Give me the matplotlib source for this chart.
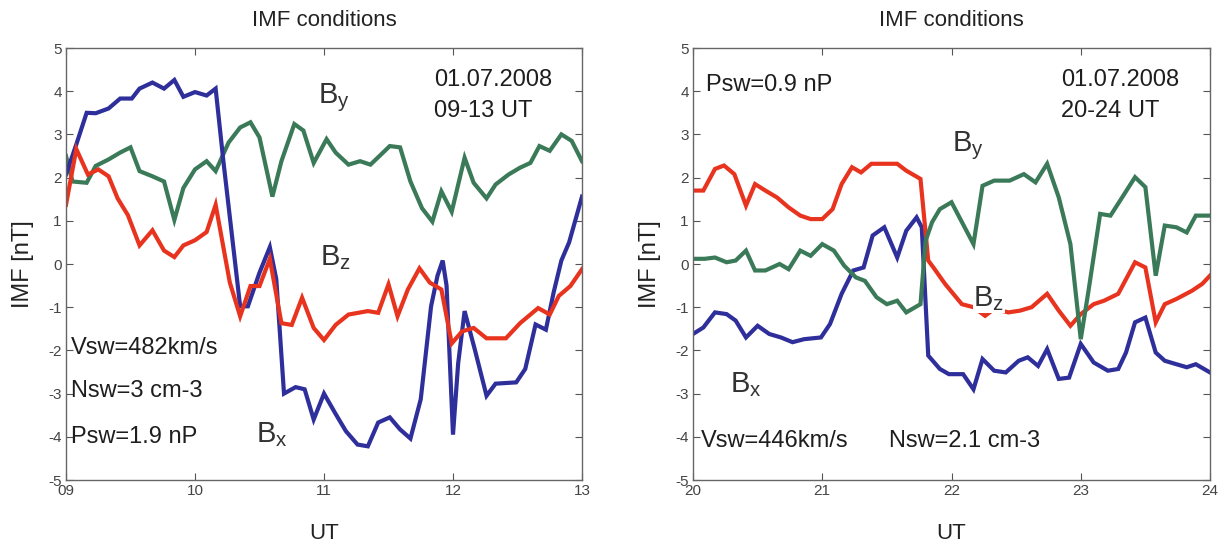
import matplotlib
matplotlib.use("Agg")
import matplotlib.pyplot as plt

# ---------------- data: left panel (09-13 UT) ----------------
t_bx1 = [9.0, 9.08, 9.16, 9.23, 9.33, 9.42, 9.51, 9.57, 9.67, 9.76, 9.84, 9.91, 10.0, 10.09, 10.16,
         10.22, 10.35, 10.41, 10.5, 10.58, 10.63, 10.69, 10.78, 10.85, 10.92, 11.0, 11.09, 11.17,
         11.26, 11.34, 11.42, 11.51, 11.59, 11.67, 11.75, 11.83, 11.88, 11.92, 11.95, 12.0, 12.04,
         12.09, 12.17, 12.26, 12.33, 12.49, 12.56, 12.64, 12.72, 12.78, 12.84, 12.9, 13.0]
v_bx1 = [2.07, 2.77, 3.5, 3.49, 3.6, 3.83, 3.83, 4.06, 4.2, 4.06, 4.26, 3.87, 3.98, 3.9, 4.06,
         2.38, -0.98, -0.98, -0.2, 0.39, -0.35, -3.0, -2.85, -2.9, -3.6, -3.0, -3.47, -3.87,
         -4.18, -4.22, -3.67, -3.55, -3.83, -4.04, -3.13, -0.98, -0.27, 0.08, -0.5, -3.95, -2.3,
         -1.09, -1.99, -3.05, -2.77, -2.74, -2.43, -1.4, -1.52, -0.66, 0.08, 0.5, 1.56]

t_by1 = [9.0, 9.05, 9.16, 9.23, 9.33, 9.42, 9.5, 9.57, 9.67, 9.76, 9.84, 9.91, 10.0, 10.09, 10.16,
         10.26, 10.35, 10.43, 10.5, 10.6, 10.67, 10.77, 10.84, 10.92, 11.02, 11.09, 11.19, 11.28,
         11.36, 11.43, 11.51, 11.59, 11.67, 11.76, 11.84, 11.91, 11.99, 12.09, 12.16, 12.26, 12.33,
         12.43, 12.52, 12.6, 12.67, 12.75, 12.84, 12.92, 13.0]
v_by1 = [2.5, 1.91, 1.88, 2.27, 2.42, 2.58, 2.7, 2.15, 2.03, 1.91, 1.02, 1.76, 2.19, 2.38, 2.15,
         2.81, 3.16, 3.28, 2.93, 1.56, 2.38, 3.24, 3.09, 2.34, 2.89, 2.58, 2.3, 2.38,
         2.3, 2.5, 2.73, 2.7, 1.91, 1.29, 0.98, 1.68, 1.21, 2.46, 1.88, 1.52, 1.84,
         2.07, 2.23, 2.34, 2.73, 2.62, 3.0, 2.85, 2.38]

t_bz1 = [9.0, 9.08, 9.17, 9.25, 9.33, 9.4, 9.48, 9.57, 9.67, 9.76, 9.84, 9.91, 10.0, 10.09, 10.16,
         10.27, 10.35, 10.43, 10.5, 10.58, 10.67, 10.75, 10.83, 10.92, 11.0, 11.09, 11.19, 11.34,
         11.42, 11.5, 11.57, 11.65, 11.74, 11.82, 11.91, 11.99, 12.07, 12.16, 12.26, 12.41, 12.52,
         12.66, 12.75, 12.82, 12.91, 13.0]
v_bz1 = [1.37, 2.66, 2.07, 2.19, 2.03, 1.52, 1.13, 0.43, 0.78, 0.31, 0.16, 0.43, 0.55, 0.74, 1.37,
         -0.43, -1.21, -0.51, -0.51, 0.12, -1.37, -1.41, -0.78, -1.48, -1.76, -1.41, -1.17, -1.09,
         -1.13, -0.47, -1.21, -0.59, -0.1, -0.43, -0.59, -1.84, -1.56, -1.48, -1.72, -1.72, -1.37,
         -1.02, -1.17, -0.74, -0.51, -0.12]

# ---------------- data: right panel (20-24 UT) ----------------
t_bx2 = [20.0, 20.08, 20.17, 20.26, 20.33, 20.41, 20.5, 20.59, 20.68, 20.77, 20.86, 20.99, 21.06,
         21.15, 21.24, 21.32, 21.39, 21.48, 21.58, 21.65, 21.73, 21.77, 21.82, 21.91, 21.98, 22.09,
         22.17, 22.24, 22.33, 22.42, 22.52, 22.59, 22.67, 22.74, 22.83, 22.91, 23.0, 23.1, 23.21,
         23.29, 23.35, 23.42, 23.5, 23.58, 23.65, 23.74, 23.82, 23.89, 24.0]
v_bx2 = [-1.62, -1.47, -1.12, -1.16, -1.31, -1.7, -1.43, -1.62, -1.7, -1.81, -1.74, -1.7, -1.39,
         -0.69, -0.15, -0.08, 0.66, 0.85, 0.15, 0.77, 1.08, 0.85, -2.12, -2.43, -2.55, -2.55,
         -2.9, -2.2, -2.47, -2.51, -2.24, -2.16, -2.36, -1.97, -2.66, -2.63, -1.85, -2.28, -2.47,
         -2.43, -2.05, -1.35, -1.24, -2.05, -2.24, -2.32, -2.39, -2.32, -2.51]

t_by2 = [20.0, 20.09, 20.17, 20.26, 20.33, 20.41, 20.48, 20.56, 20.67, 20.74, 20.83, 20.91, 21.0,
         21.09, 21.17, 21.26, 21.33, 21.42, 21.5, 21.58, 21.65, 21.76, 21.8, 21.85, 21.91, 22.0,
         22.17, 22.24, 22.33, 22.45, 22.56, 22.65, 22.74, 22.83, 22.92, 23.0, 23.06, 23.15, 23.23,
         23.32, 23.42, 23.5, 23.58, 23.65, 23.74, 23.82, 23.89, 24.0]
v_by2 = [0.12, 0.12, 0.15, 0.04, 0.08, 0.31, -0.15, -0.15, 0.0, -0.12, 0.31, 0.19, 0.46,
         0.31, -0.04, -0.31, -0.39, -0.77, -0.93, -0.85, -1.12, -0.93, 0.54, 0.97, 1.27, 1.43,
         0.46, 1.81, 1.93, 1.93, 2.08, 1.89, 2.32, 1.54, 0.46, -1.74, -0.62, 1.16, 1.12,
         1.54, 2.01, 1.78, -0.27, 0.89, 0.85, 0.73, 1.12, 1.12]

t_bz2 = [20.0, 20.08, 20.17, 20.24, 20.32, 20.41, 20.48, 20.56, 20.65, 20.74, 20.83, 20.91, 21.0,
         21.08, 21.15, 21.23, 21.3, 21.38, 21.47, 21.58, 21.65, 21.76, 21.82, 21.86, 21.95, 22.08,
         22.17, 22.26, 22.33, 22.44, 22.53, 22.62, 22.74, 22.83, 22.92, 23.0, 23.1, 23.18, 23.29,
         23.42, 23.5, 23.58, 23.65, 23.74, 23.86, 23.94, 24.0]
v_bz2 = [1.7, 1.7, 2.2, 2.28, 2.08, 1.35, 1.85, 1.7, 1.54, 1.31, 1.12, 1.04, 1.04,
         1.27, 1.85, 2.24, 2.12, 2.32, 2.32, 2.32, 2.16, 1.97, 0.08, -0.08, -0.46, -0.93,
         -1.0, -1.2, -1.04, -1.12, -1.08, -1.0, -0.69, -1.08, -1.43, -1.16, -0.93, -0.85, -0.69,
         0.04, -0.08, -1.35, -0.93, -0.81, -0.62, -0.46, -0.27]

xticks1 = [9, 10, 11, 12, 13]
xlabels1 = ["09", "10", "11", "12", "13"]
xticks2 = [20, 21, 22, 23, 24]
xlabels2 = ["20", "21", "22", "23", "24"]
yticks = [-5, -4, -3, -2, -1, 0, 1, 2, 3, 4, 5]

C_BX = "#2f2f9c"
C_BY = "#3b7a58"
C_BZ = "#e8341f"
TXT = "#1e1e1e"
LAB = "#333333"
FAM = ["Liberation Sans", "DejaVu Sans"]
TFAM = ["Liberation Sans Narrow", "Liberation Sans", "DejaVu Sans"]

fig = plt.figure(figsize=(12.19, 5.46), dpi=100)
fig.patch.set_facecolor("white")

ax1 = fig.add_axes([66/1219, 1-480/546, (582-66)/1219, (480-48)/546])
ax2 = fig.add_axes([693/1219, 1-480/546, (1210-693)/1219, (480-48)/546])


def style(ax, xt, xl):
    ax.set_ylim(-5, 5)
    ax.set_xlim(xt[0], xt[-1])
    ax.set_xticks(xt)
    ax.set_xticklabels(xl)
    ax.set_yticks(yticks)
    ax.set_yticklabels([str(v) for v in yticks])
    ax.tick_params(direction="in", length=5, width=0.8, color="#555555",
                   labelcolor="#444444", labelsize=11, top=True, right=True, pad=3)
    for lab in ax.get_xticklabels() + ax.get_yticklabels():
        lab.set_family(TFAM)
    for s in ax.spines.values():
        s.set_color("#666666")
        s.set_linewidth(1.0)
    ax.set_title("IMF conditions", fontsize=16, family=FAM, color="#222222", pad=16)
    ax.set_xlabel("UT", fontsize=16, family=FAM, color="#222222", labelpad=18)
    ax.set_ylabel("IMF [nT]", fontsize=17, family=FAM, color="#222222", labelpad=10)


lw = 3.0
style(ax1, xticks1, xlabels1)
ax1.plot(t_by1, v_by1, color=C_BY, lw=lw, solid_joinstyle="miter")
ax1.plot(t_bx1, v_bx1, color=C_BX, lw=lw, solid_joinstyle="miter")
ax1.plot(t_bz1, v_bz1, color=C_BZ, lw=lw, solid_joinstyle="miter")

style(ax2, xticks2, xlabels2)
ax2.plot(t_bx2, v_bx2, color=C_BX, lw=lw, solid_joinstyle="miter")
ax2.plot(t_bz2, v_bz2, color=C_BZ, lw=lw, solid_joinstyle="miter")
ax2.plot(t_by2, v_by2, color=C_BY, lw=lw, solid_joinstyle="miter")

tk = dict(fontsize=17, family=FAM, color=TXT)
bk = dict(fontsize=21, family=FAM, color=LAB)

# left annotations
ax1.text(11.85, 4.25, "01.07.2008", va="center", ha="left", **tk)
ax1.text(11.85, 3.55, "09-13 UT", va="center", ha="left", **tk)
ax1.text(9.04, -1.95, "Vsw=482km/s", va="center", ha="left", **tk)
ax1.text(9.04, -2.95, "Nsw=3 cm-3", va="center", ha="left", **tk)
ax1.text(9.04, -4.0, "Psw=1.9 nP", va="center", ha="left", **tk)
ax1.text(10.95, 3.85, r"B$_\mathregular{y}$", va="center", ha="left", **bk)
ax1.text(10.97, 0.15, r"B$_\mathregular{z}$", va="center", ha="left", **bk)
ax1.text(10.47, -3.95, r"B$_\mathregular{x}$", va="center", ha="left", **bk)

# right annotations
ax2.text(20.1, 4.15, "Psw=0.9 nP", va="center", ha="left", **tk)
ax2.text(22.85, 4.25, "01.07.2008", va="center", ha="left", **tk)
ax2.text(22.85, 3.55, "20-24 UT", va="center", ha="left", **tk)
ax2.text(20.06, -4.1, "Vsw=446km/s", va="center", ha="left", **tk)
ax2.text(21.52, -4.1, "Nsw=2.1 cm-3", va="center", ha="left", **tk)
ax2.text(22.0, 2.75, r"B$_\mathregular{y}$", va="center", ha="left", **bk)
ax2.text(22.17, -0.8, r"B$_\mathregular{z}$", va="center", ha="left",
         bbox=dict(facecolor="white", edgecolor="none", pad=0.3), **bk)
ax2.text(20.29, -2.8, r"B$_\mathregular{x}$", va="center", ha="left", **bk)

fig.savefig("out.png", dpi=100, facecolor="white")
